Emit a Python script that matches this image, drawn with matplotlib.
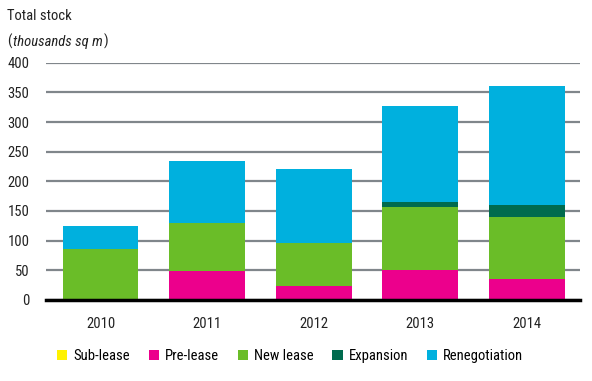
import numpy as np
import matplotlib.pyplot as plt
from matplotlib import font_manager

names = {f.name for f in font_manager.fontManager.ttflist}
fam = 'DejaVu Sans'
for cand in ['Roboto Condensed', 'Liberation Sans Narrow', 'DejaVu Sans Condensed']:
    if cand in names:
        fam = cand
        break
plt.rcParams['font.family'] = [fam, 'DejaVu Sans']

years = ['2010', '2011', '2012', '2013', '2014']
series_names = ['Sub-lease', 'Pre-lease', 'New lease', 'Expansion', 'Renegotiation']
sub_lease = [0, 0, 0, 0, 0]
pre_lease = [0, 48, 24, 50, 35]
new_lease = [86, 81, 72, 107, 105]
expansion = [0, 0, 0, 8, 20]
renegotiation = [39, 106, 125, 162, 201]

colors = ['#FFF200', '#EC008C', '#6ABD28', '#006B4E', '#00B0DE']

fig = plt.figure(figsize=(5.92, 3.81), dpi=100)
ax = fig.add_axes([0.078, 0.213, 0.902, 0.622])

x = np.arange(len(years))
bottom = np.zeros(len(years))
for name, vals, c in zip(series_names,
                         [sub_lease, pre_lease, new_lease, expansion, renegotiation],
                         colors):
    vals = np.array(vals, dtype=float)
    ax.bar(x, vals, 0.71, bottom=bottom, color=c, label=name, zorder=3)
    bottom += vals

fs = 10.5
ax.set_xlim(-0.51, 4.5)
ax.set_ylim(0, 400)
ax.set_yticks(np.arange(0, 401, 50))
ax.set_xticks(x)
ax.set_xticklabels(years)
ax.grid(axis='y', color='#80868B', linewidth=1.6, zorder=0)
ax.tick_params(length=0, labelsize=fs, colors='#222222')
ax.tick_params(axis='y', pad=12)
ax.tick_params(axis='x', pad=12)
for s in ['top', 'right', 'left']:
    ax.spines[s].set_visible(False)
ax.spines['bottom'].set_linewidth(2.5)
ax.spines['bottom'].set_color('black')
ax.spines['bottom'].set_zorder(4)

fig.text(0.012, 0.948, 'Total stock', fontsize=fs, color='#222222')
t1 = fig.text(0.012, 0.88, '(', fontsize=fs, color='#222222')
a2 = ax.annotate('thousands sq m', xy=(1, 0), xycoords=t1, xytext=(1, 0),
                 textcoords='offset points', fontsize=fs, style='italic',
                 color='#222222', va='bottom', annotation_clip=False)
ax.annotate(')', xy=(1, 0), xycoords=a2, xytext=(0.5, 0), textcoords='offset points',
            fontsize=fs, color='#222222', va='bottom', annotation_clip=False)

handles, labels = ax.get_legend_handles_labels()
fig.legend(handles, labels, loc='center', bbox_to_anchor=(0.49, 0.066), ncol=5,
           frameon=False, fontsize=fs, handlelength=0.7, handleheight=0.7,
           handletextpad=0.4, columnspacing=1.3)

fig.savefig('out.png', dpi=100)
